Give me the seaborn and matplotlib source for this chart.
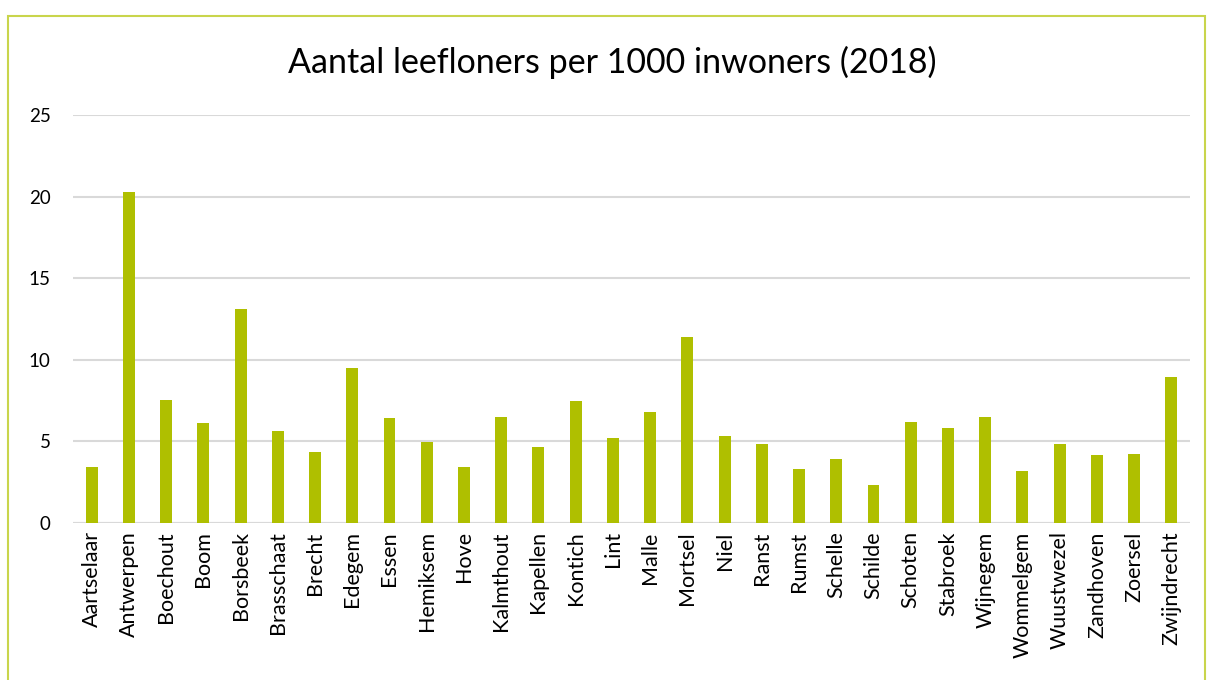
import pandas as pd
import matplotlib.pyplot as plt
import seaborn as sns
from matplotlib.patches import Rectangle

################ DATA ################
gemeenten = [
    'Aartselaar', 'Antwerpen', 'Boechout', 'Boom', 'Borsbeek', 'Brasschaat',
    'Brecht', 'Edegem', 'Essen', 'Hemiksem', 'Hove', 'Kalmthout', 'Kapellen',
    'Kontich', 'Lint', 'Malle', 'Mortsel', 'Niel', 'Ranst', 'Rumst', 'Schelle',
    'Schilde', 'Schoten', 'Stabroek', 'Wijnegem', 'Wommelgem', 'Wuustwezel',
    'Zandhoven', 'Zoersel', 'Zwijndrecht'
]
leefloners = [
    3.43, 20.31, 7.55, 6.12, 13.12, 5.65,
    4.33, 9.47, 6.41, 4.98, 3.41, 6.47, 4.67,
    7.47, 5.2, 6.8, 11.39, 5.35, 4.84, 3.31, 3.92,
    2.35, 6.2, 5.84, 6.51, 3.2, 4.84,
    4.16, 4.24, 8.96
]
yticks = [0, 5, 10, 15, 20, 25]
title = "Aantal leefloners per 1000 inwoners (2018)"

df = pd.DataFrame({'gemeente': gemeenten, 'waarde': leefloners})

################ PLOT ################
sns.set_style("white")
plt.rcParams['font.family'] = ['Lato', 'DejaVu Sans']

fig = plt.figure(figsize=(12.08, 6.8), dpi=100)
ax = fig.add_axes([73 / 1208, 1 - 523 / 680, (1190 - 73) / 1208, (523 - 115) / 680])

sns.barplot(data=df, x='gemeente', y='waarde', color='#afbf00',
            width=0.32, saturation=1, linewidth=0, ax=ax)

ax.set_ylim(0, 25)
ax.set_yticks(yticks)
ax.set_xlim(-0.5, len(gemeenten) - 0.5)
ax.yaxis.grid(True, color='#d9d9d9', linewidth=1.5)
ax.set_axisbelow(True)
for s in ax.spines.values():
    s.set_visible(False)
ax.axhline(0, color='#d9d9d9', linewidth=1.5, zorder=0.5)

ax.set_xlabel('')
ax.set_ylabel('')
ax.tick_params(axis='both', length=0, colors='#000000')
ax.tick_params(axis='y', pad=16, labelsize=13.5)
ax.tick_params(axis='x', pad=6, labelsize=15.5)
plt.setp(ax.get_xticklabels(), rotation=90)

fig.text(0.507, 1 - 62 / 680, title, ha='center', va='center', fontsize=24.5,
         color='black')

# chart border
fig.patches.append(Rectangle((8 / 1208, -0.1), (1205 - 8) / 1208, 1.1 - 16 / 680,
                             transform=fig.transFigure, fill=False,
                             edgecolor='#c9d54c', linewidth=1.5))

fig.savefig('out.png', dpi=100)
